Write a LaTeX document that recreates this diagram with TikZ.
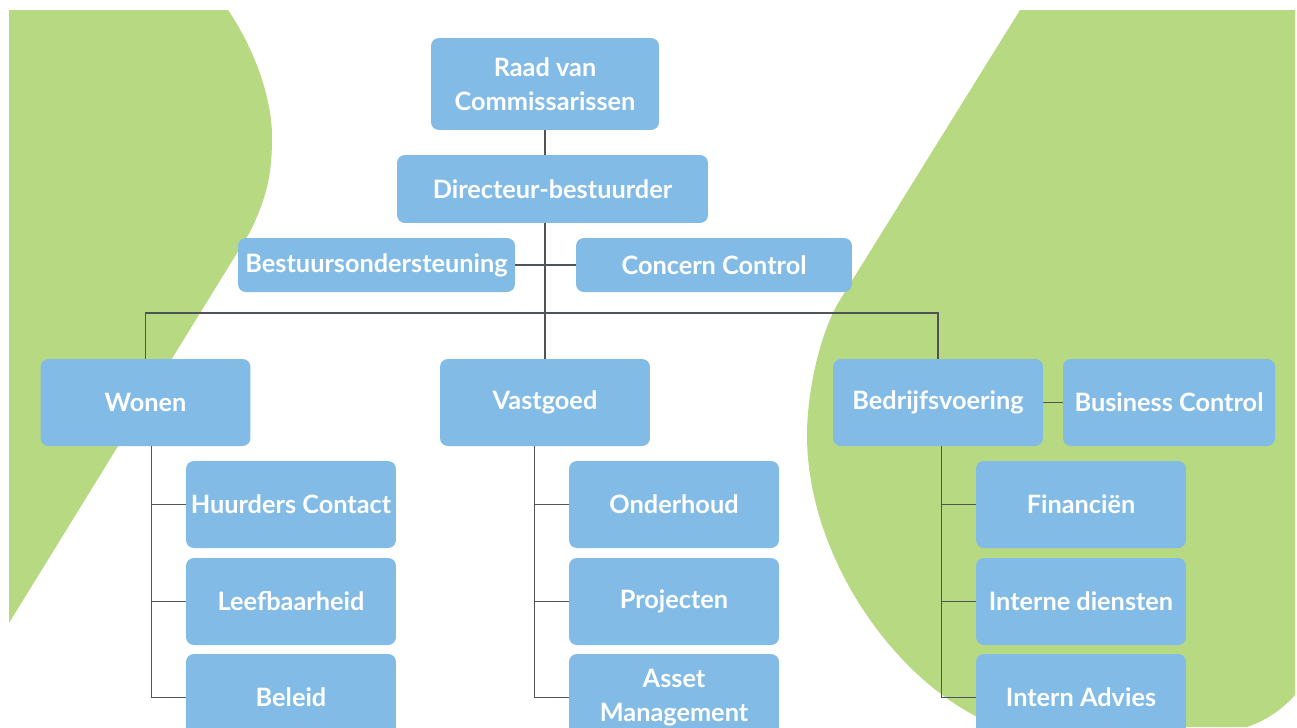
\documentclass[tikz,border=0pt]{standalone}
\usepackage{fontspec}
\setmainfont{Lato}
\usetikzlibrary{positioning,calc}

\definecolor{boxBlue}{RGB}{130,187,230}
\definecolor{leafGreen}{RGB}{182,217,130}
\definecolor{lineGrey}{RGB}{80,84,88}

\newcommand{\orgFont}{\fontsize{14.4}{19.3}\selectfont\bfseries}

\tikzset{
  orgBox/.style={rectangle,fill=boxBlue,rounded corners=4.5pt,text=white,
    font=\orgFont,inner sep=0pt,align=center},
  unitBox/.style={orgBox,minimum width=4.2cm,minimum height=1.74cm},
  staffBox/.style={orgBox,minimum height=1.08cm},
  link/.style={draw=lineGrey,line width=0.9pt},
}

\begin{document}
\begin{tikzpicture}[x=0.02cm,y=-0.02cm]

% canvas
\fill[white] (0,0) rectangle (1297,727);
\useasboundingbox (0,0) rectangle (1297,727);

% ===== Green background shapes =====
\begin{scope}
  \clip (9,10) rectangle (1295,727);
  \fill[leafGreen] (9,10) -- (228,10)
    .. controls (252,45) and (272,95) .. (272,137)
    .. controls (272,172) and (268,195) .. (250,232)
    -- (9,623) -- cycle;
  \fill[leafGreen] (1020,10) -- (1295,10) -- (1295,695)
    .. controls (1280,712) and (1262,722) .. (1247,727)
    -- (1000,727)
    .. controls (900,690) and (807,560) .. (807,435)
    .. controls (807,390) and (821,330) .. (840,300)
    -- cycle;
\end{scope}

% Column anchors
\coordinate (Cwonen) at (145.5,402.5);
\coordinate (Cvast) at (545,402.5);
\coordinate (Cbedr) at (938,402.5);

% ===== Top of the organisation =====
\node[orgBox, minimum width=4.56cm, minimum height=1.84cm] (raad) at (545,84) {Raad van\\Commissarissen};
\node[orgBox, minimum width=6.22cm, minimum height=1.36cm] (directeur) at (552.5,189) {Directeur-bestuurder};
\node[staffBox, minimum width=5.54cm] (bestuur) at (376.5,265) {Bestuursondersteuning};
\node[staffBox, minimum width=5.52cm] (concern) at (714,265) {Concern Control};

% ===== Departments =====
\node[unitBox] (wonen) at (Cwonen) {Wonen};
\node[unitBox] (vastgoed) at (Cvast) {Vastgoed};
\node[unitBox] (bedrijf) at (Cbedr) {Bedrijfsvoering};
\node[unitBox, minimum width=4.24cm] (business) at (1169,402.5) {Business Control};

% ===== Teams (three per department) =====
\node[unitBox] (huurders) at ($(Cwonen)+(145.5,102)$) {Huurders Contact};
\node[unitBox] (leefbaar) at ($(Cwonen)+(145.5,199)$) {Leefbaarheid};
\node[unitBox] (beleid) at ($(Cwonen)+(145.5,295)$) {Beleid};

\node[unitBox] (onderhoud) at ($(Cvast)+(129,102)$) {Onderhoud};
\node[unitBox] (projecten) at ($(Cvast)+(129,199)$) {Projecten};
\node[unitBox] (asset) at ($(Cvast)+(129,295)$) {Asset\\Management};

\node[unitBox] (financien) at ($(Cbedr)+(143,102)$) {Financiën};
\node[unitBox] (diensten) at ($(Cbedr)+(143,199)$) {Interne diensten};
\node[unitBox] (advies) at ($(Cbedr)+(143,295)$) {Intern Advies};

% ===== Connections =====
\coordinate (bar) at (545,313);
\draw[link] (raad.south) -- (raad.south |- directeur.north);
\draw[link] (vastgoed.north |- directeur.south) -- (vastgoed.north);
\draw[link] (bestuur.east) -- (concern.west);
\draw[link] (wonen.north) |- (bar) -| (bedrijf.north);
\draw[link] (bedrijf.east) -- (business.west);

% spines down the left side of each team column
\foreach \dept/\a/\b/\c in {wonen/huurders/leefbaar/beleid,
                            vastgoed/onderhoud/projecten/asset,
                            bedrijf/financien/diensten/advies} {
  \coordinate (\dept spine) at ($(\a.west)+(-34,0)$);
  \draw[link] (\dept spine |- \dept.south) |- (\c.west);
  \draw[link] (\dept spine) -- (\a.west);
  \draw[link] (\dept spine |- \b.west) -- (\b.west);
}

\end{tikzpicture}
\end{document}
